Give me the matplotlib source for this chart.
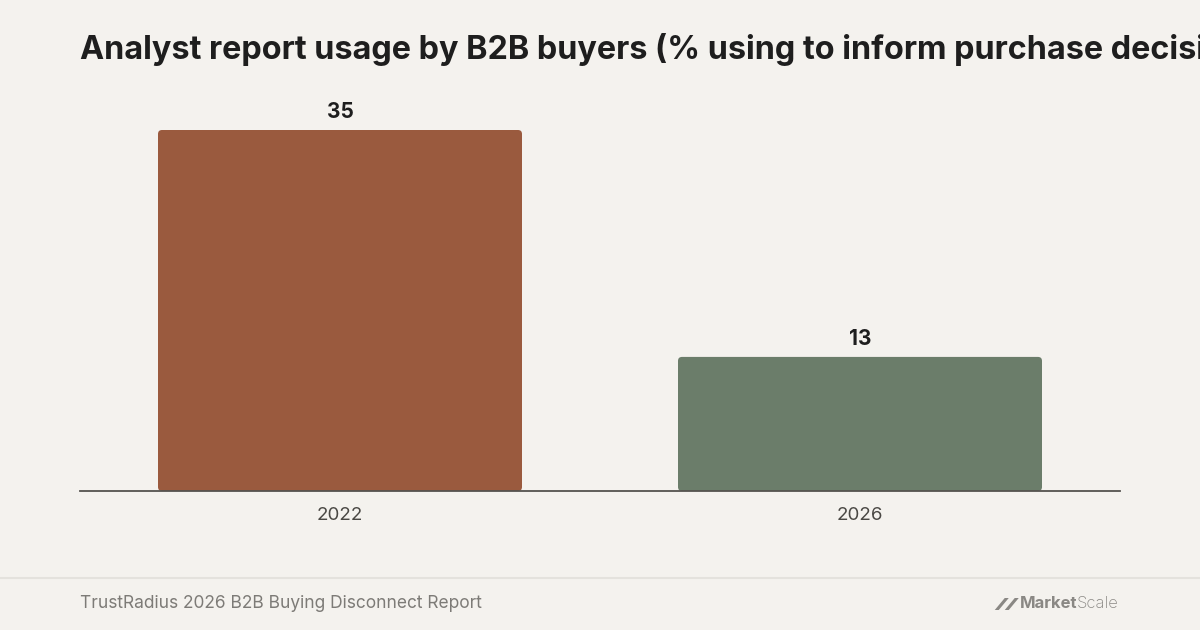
import matplotlib
matplotlib.use('Agg')
import matplotlib.pyplot as plt
from matplotlib.patches import FancyBboxPatch, Polygon

# data
years = ['2022', '2026']
usage = [35, 13]
bar_colors = ['#9a5a3e', '#6b7d6a']

BG = '#f4f2ee'
INK = '#1e1e1e'
MUTED = '#7d7b77'

plt.rcParams['font.family'] = ['Inter', 'DejaVu Sans']

W, H = 1200, 630
fig = plt.figure(figsize=(12, 6.3), dpi=100, facecolor=BG)

ax = fig.add_axes((80 / W, 1 - 491 / H, 1040 / W, 361 / H))
ax.set_facecolor(BG)
ax.set_xlim(-0.5, 1.5)
ax.set_ylim(0, max(usage))

bars = ax.bar(range(len(years)), usage, width=0.7, color=bar_colors)

# swap the plain rectangles for slightly rounded ones
px_x = 2 / 1040
px_y = max(usage) / 361
for b in bars:
    x, y = b.get_x(), b.get_y()
    w, h = b.get_width(), b.get_height()
    fc = b.get_facecolor()
    b.remove()
    ax.add_patch(FancyBboxPatch((x, y), w, h,
                                boxstyle=f'round,pad=0,rounding_size={4 * px_x}',
                                mutation_aspect=px_y / px_x,
                                facecolor=fc, edgecolor='none', zorder=2))

for i, v in enumerate(usage):
    ax.annotate(f'{v}', (i, v), xytext=(0, 6), textcoords='offset points',
                ha='center', va='bottom', fontsize=15, fontweight='bold', color=INK)

ax.set_xticks(range(len(years)))
ax.set_xticklabels(years, fontsize=13.5, color='#4a4844')
ax.tick_params(axis='x', length=0, pad=11.5)
ax.set_yticks([])
for s in ['top', 'right', 'left']:
    ax.spines[s].set_visible(False)
ax.spines['bottom'].set_color('#55534f')
ax.spines['bottom'].set_linewidth(1.3)
ax.spines['bottom'].set_zorder(3)

# title (runs off the right edge like the original)
fig.text(80 / W, 1 - 49 / H, 'Analyst report usage by B2B buyers (% using to inform purchase decisions)',
         ha='left', va='center', fontsize=23.3, fontweight='bold', color=INK)

# footer
fig.add_artist(plt.Line2D([0, 1], [1 - 578 / H] * 2, color='#e4e2dd', lw=1.5))
fig.text(80 / W, 1 - 603 / H, 'TrustRadius 2026 B2B Buying Disconnect Report',
         ha='left', va='center', fontsize=12.5, color=MUTED)

# MarketScale wordmark
t1 = fig.text(1119 / W, 1 - 604 / H, 'Scale', ha='right', va='center',
              fontsize=12, fontweight='light', color='#8a8884')
fig.canvas.draw()
bb = t1.get_window_extent()
t2 = fig.text(bb.x0 / W, 1 - 604 / H, 'Market', ha='right', va='center',
              fontsize=12, fontweight='bold', color='#8a8884')
fig.canvas.draw()
bb2 = t2.get_window_extent()
x_end = bb2.x0 - 3
yb, yt = 1 - 610 / H, 1 - 598 / H
for dx in (0, 10):
    xr = x_end - 12 + dx - 10
    fig.add_artist(Polygon([((xr) / W, yb), ((xr + 4) / W, yb),
                            ((xr + 14) / W, yt), ((xr + 10) / W, yt)],
                           closed=True, facecolor='#8a8884', edgecolor='none'))

fig.savefig('out.png', dpi=100, facecolor=BG)
